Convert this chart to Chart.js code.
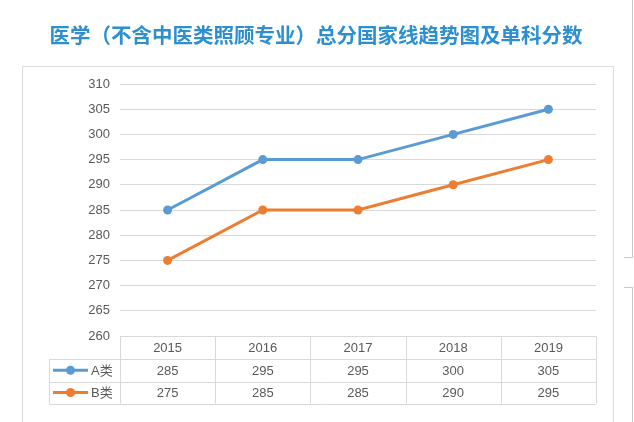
<!DOCTYPE html>
<html>
<head>
<meta charset="utf-8">
<script src="https://cdn.jsdelivr.net/npm/chart.js@4.4.1/dist/chart.umd.min.js"></script>
<style>
  html, body { margin: 0; padding: 0; background: #fff; }
  #wrap { width: 634px; height: 422px; }
</style>
</head>
<body>
<div id="wrap"><canvas id="myChart" width="634" height="422"></canvas></div>
<script>
const chartTitle = "医学（不含中医类照顾专业）总分国家线趋势图及单科分数";
const years = ["2015", "2016", "2017", "2018", "2019"];
const seriesNames = ["A类", "B类"];
const valuesA = [285, 295, 295, 300, 305];
const valuesB = [275, 285, 285, 290, 295];
const yMin = 260, yMax = 310, yStep = 5;

const blue = "#5b9bd5";
const orange = "#ed7d31";
const textGray = "#595959";
const lineGray = "#d9d9d9";
const tableFont = "13px 'Liberation Sans', 'Noto Sans CJK SC', sans-serif";

// title, outer frame and the thin edge line on the right
const framePlugin = {
    id: "frame",
    beforeDraw: function(chart) {
        const ctx = chart.ctx;
        ctx.save();
        ctx.fillStyle = "#2b8fd0";
        ctx.font = "bold 20.5px 'Noto Sans CJK SC', sans-serif";
        ctx.textAlign = "center";
        ctx.textBaseline = "middle";
        ctx.fillText(chartTitle, 316, 35);

        ctx.strokeStyle = "#dcdcdc";
        ctx.lineWidth = 1;
        ctx.strokeRect(22.5, 66.5, 591, 380);
        ctx.strokeStyle = "#c8c8c8";
        ctx.beginPath();
        ctx.moveTo(632.5, 0); ctx.lineTo(632.5, 257);
        ctx.moveTo(632.5, 287); ctx.lineTo(632.5, 422);
        ctx.moveTo(624, 257.5); ctx.lineTo(633, 257.5);
        ctx.moveTo(624, 287.5); ctx.lineTo(633, 287.5);
        ctx.stroke();
        ctx.restore();
    }
};

// data table under the plot, built from the same arrays
const tablePlugin = {
    id: "dataTable",
    afterDraw: function(chart) {
        const ctx = chart.ctx;
        const area = chart.chartArea;
        const xs = chart.scales.x;
        const colW = (area.right - area.left) / years.length;
        const top = area.bottom;
        const rows = [top, top + 23, top + 45.5, top + 67.5];
        const legendLeft = 49;

        ctx.save();
        ctx.strokeStyle = lineGray;
        ctx.lineWidth = 1;
        ctx.beginPath();
        ctx.moveTo(area.left, Math.round(rows[0]) + 0.5);
        ctx.lineTo(area.right, Math.round(rows[0]) + 0.5);
        for (let r = 1; r < rows.length; r++) {
            ctx.moveTo(legendLeft, Math.round(rows[r]) + 0.5);
            ctx.lineTo(area.right, Math.round(rows[r]) + 0.5);
        }
        for (let c = 0; c <= years.length; c++) {
            const x = Math.round(area.left + c * colW) + 0.5;
            ctx.moveTo(x, rows[0]);
            ctx.lineTo(x, rows[3]);
        }
        ctx.moveTo(legendLeft + 0.5, rows[1]);
        ctx.lineTo(legendLeft + 0.5, rows[3]);
        ctx.stroke();

        ctx.fillStyle = textGray;
        ctx.font = tableFont;
        ctx.textAlign = "center";
        ctx.textBaseline = "middle";
        const series = [valuesA, valuesB];
        years.forEach(function(y, i) {
            const cx = xs.getPixelForValue(i);
            ctx.fillText(y, cx, (rows[0] + rows[1]) / 2 + 1);
            series.forEach(function(vals, s) {
                ctx.fillText(String(vals[i]), cx, (rows[s + 1] + rows[s + 2]) / 2 + 1);
            });
        });

        const colors = [blue, orange];
        seriesNames.forEach(function(name, s) {
            const cy = (rows[s + 1] + rows[s + 2]) / 2;
            ctx.strokeStyle = colors[s];
            ctx.lineWidth = 3;
            ctx.beginPath();
            ctx.moveTo(53, cy);
            ctx.lineTo(88, cy);
            ctx.stroke();
            ctx.fillStyle = colors[s];
            ctx.beginPath();
            ctx.arc(70.5, cy, 4.5, 0, Math.PI * 2);
            ctx.fill();
            ctx.fillStyle = textGray;
            ctx.textAlign = "left";
            ctx.fillText(name, 91, cy + 1);
        });
        ctx.restore();
    }
};

function graficar(namechart) {
    const chartdata = {
        labels: years,
        datasets: [
            {
                label: seriesNames[0],
                data: valuesA,
                borderColor: blue,
                backgroundColor: blue,
                borderWidth: 3,
                pointRadius: 4.5,
                pointBorderWidth: 0
            },
            {
                label: seriesNames[1],
                data: valuesB,
                borderColor: orange,
                backgroundColor: orange,
                borderWidth: 3,
                pointRadius: 4.5,
                pointBorderWidth: 0
            }
        ]
    };
    return new Chart(document.getElementById(namechart), {
        type: "line",
        data: chartdata,
        plugins: [framePlugin, tablePlugin],
        options: {
            responsive: false,
            animation: false,
            layout: { padding: { left: 0, right: 38, top: 84, bottom: 86 } },
            plugins: {
                legend: { display: false },
                tooltip: { enabled: false },
                title: { display: false }
            },
            scales: {
                x: {
                    display: false,
                    offset: true
                },
                y: {
                    min: yMin,
                    max: yMax,
                    border: { display: false },
                    grid: { color: lineGray, drawTicks: false },
                    ticks: {
                        stepSize: yStep,
                        color: textGray,
                        padding: 10,
                        font: { family: "'Liberation Sans', sans-serif", size: 13 }
                    },
                    afterFit: function(scale) { scale.width = 120; }
                }
            }
        }
    });
}

let myChart = graficar("myChart");
</script>
</body>
</html>
